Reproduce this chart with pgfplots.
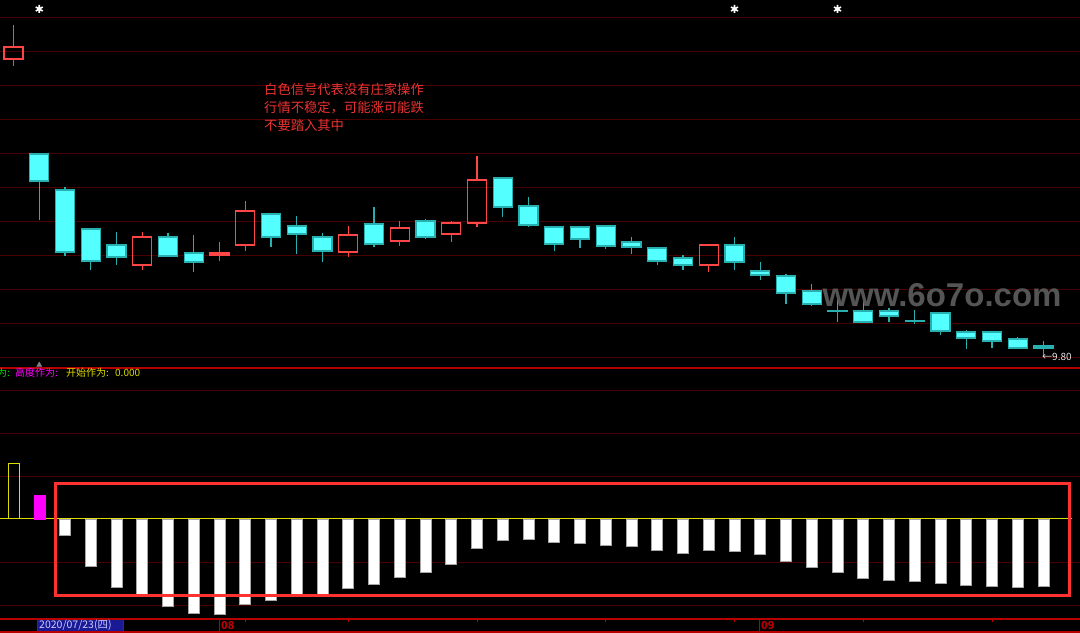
\documentclass[border=0pt]{standalone}
\usepackage{pgfplots}
\pgfplotsset{compat=1.18}
\usepgfplotslibrary{statistics}
\usepackage{fontspec}
\setmainfont{Noto Sans CJK SC}
\newfontfamily\wmfont{Liberation Sans}
\definecolor{cybody}{RGB}{84,255,255}
\definecolor{cyedge}{RGB}{40,175,175}
\definecolor{redc}{RGB}{255,70,70}
\definecolor{gridred}{RGB}{75,0,0}
\definecolor{sepred}{RGB}{185,0,0}
\definecolor{txtred}{RGB}{235,50,50}
\definecolor{boxred}{RGB}{255,50,50}
\definecolor{yel}{RGB}{220,220,0}
\definecolor{mag}{RGB}{255,0,255}
\definecolor{grn}{RGB}{0,220,0}
\definecolor{datebg}{RGB}{26,26,150}
\definecolor{wmgray}{RGB}{85,85,85}
\newcommand{\dn}[5]{\addplot[draw=cyedge, fill=cybody, line width=1.2bp, boxplot prepared={draw direction=y, draw position=#1, lower whisker=#2, lower quartile=#3, median=#3, upper quartile=#4, upper whisker=#5, box extend=19, whisker extend=0}] coordinates {};}
\newcommand{\up}[5]{\addplot[draw=redc, fill=none, line width=1.2bp, boxplot prepared={draw direction=y, draw position=#1, lower whisker=#2, lower quartile=#3, median=#3, upper quartile=#4, upper whisker=#5, box extend=19, whisker extend=0}] coordinates {};}
\begin{document}
\begin{tikzpicture}
\useasboundingbox (0,0) rectangle (1080bp,633bp);
\clip (0,0) rectangle (1080bp,633bp);
\fill[black] (0,0) rectangle (1080bp,633bp);
% ---------------- top panel (price, pixel rows, reversed) ----------------
\begin{axis}[at={(0,265bp)}, anchor=south west, scale only axis,
  width=1080bp, height=368bp, xmin=0, xmax=1080, ymin=0, ymax=368,
  y dir=reverse, clip=false, axis line style={draw=none},
  xtick=\empty, ytick={17,51,85,119,153,187,221,255,289,323,357}, yticklabels={},
  major tick length=0pt, ymajorgrids, grid style={gridred, line width=0.8bp}]
\up{13.5}{25}{47}{59}{66}
\dn{39.25}{154}{154}{181}{220}
\dn{65}{187}{190}{252}{256}
\dn{90.75}{229}{229}{261}{270}
\dn{116.5}{232}{245}{257}{265}
\up{142.25}{232}{237}{265}{270}
\dn{168}{233}{237}{256}{256}
\dn{193.75}{235}{253}{262}{272}
\up{219.5}{242}{253}{255}{261}
\up{245.25}{201}{211}{245}{251}
\dn{271}{214}{214}{237}{247}
\dn{296.75}{216}{226}{234}{254}
\dn{322.5}{233}{237}{251}{262}
\up{348.25}{226}{235}{252}{257}
\dn{374}{207}{224}{244}{247}
\up{399.75}{221}{228}{241}{246}
\dn{425.5}{219}{221}{237}{239}
\up{451.25}{221}{223}{234}{242}
\up{477}{156}{180}{223}{227}
\dn{502.75}{178}{178}{207}{217}
\dn{528.5}{197}{206}{225}{227}
\dn{554.25}{226}{227}{244}{251}
\dn{580}{227}{227}{239}{248}
\dn{605.75}{226}{226}{246}{249}
\dn{631.5}{237}{242}{247}{254}
\dn{657.25}{247}{248}{261}{265}
\dn{683}{255}{258}{265}{270}
\up{708.75}{245}{245}{265}{272}
\dn{734.5}{237}{245}{262}{270}
\dn{760.25}{262}{271}{275}{280}
\dn{786}{274}{276}{293}{304}
\dn{811.75}{284}{291}{304}{306}
\dn{837.5}{298}{310.5}{311.5}{322}
\dn{863.25}{297}{311}{322}{322}
\dn{889}{308}{311}{316}{322}
\dn{914.75}{310}{320.5}{321.5}{324}
\dn{940.5}{313}{313}{331}{335}
\dn{966.25}{330}{332}{338}{349}
\dn{992}{332}{332}{341}{348}
\dn{1017.75}{337}{339}{348}{349}
\dn{1043.5}{341}{346}{348}{357}
% white signals
\addplot[only marks, mark=asterisk, mark size=4bp, white, line width=1.6bp] coordinates {(39.25,9) (734.5,9) (837.5,9)};
\addplot[only marks, mark=*, mark size=1.6bp, white] coordinates {(39.25,9) (734.5,9) (837.5,9)};
\addplot[only marks, mark=triangle*, mark size=3bp, gray] coordinates {(39.25,365)};
\node[anchor=north west, align=left, text=txtred, font=\fontsize{13.3bp}{18bp}\selectfont, inner sep=0pt] at (axis cs:264,83) {白色信号代表没有庄家操作\\行情不稳定，可能涨可能跌\\不要踏入其中};
\node[anchor=center, text=wmgray, font=\wmfont\bfseries\fontsize{33bp}{36bp}\selectfont, inner sep=0pt] at (axis cs:942,295) {www.6o7o.com};
\node[anchor=west, text=white!80!gray, font=\fontsize{10bp}{12bp}\selectfont, inner sep=0pt] at (axis cs:1042,357) {←9.80};
\end{axis}
% ---------------- lower panel (indicator) ----------------
\begin{axis}[at={(0,0)}, anchor=south west, scale only axis,
  width=1080bp, height=265bp, xmin=0, xmax=1080, ymin=-114, ymax=151,
  clip=false, axis line style={draw=none},
  xtick=\empty, ytick={-86,-43,43,86,129}, yticklabels={},
  major tick length=0pt, ymajorgrids, grid style={gridred, line width=0.8bp}]
\draw[sepred, line width=1.3bp] (axis cs:0,151) -- (axis cs:1080,151);
\addplot[yel, line width=1bp] coordinates {(0,0) (1072,0)};
\addplot[ybar, bar width=11, bar shift=0pt, draw=yel, fill=none, line width=1bp] coordinates {(13.5,55)};
\addplot[ybar, bar width=11, bar shift=0pt, draw=mag, fill=mag] coordinates {(39.25,24)};
\addplot[ybar, bar width=11, bar shift=0pt, draw=gray!70, fill=white, line width=0.8bp] coordinates {
(65,-16) (90.75,-47) (116.5,-68) (142.25,-77) (168,-87) (193.75,-94) (219.5,-95)
(245.25,-85) (271,-81) (296.75,-77) (322.5,-75) (348.25,-69) (374,-65) (399.75,-58)
(425.5,-53) (451.25,-45) (477,-29) (502.75,-21) (528.5,-20) (554.25,-23) (580,-24)
(605.75,-26) (631.5,-27) (657.25,-31) (683,-34) (708.75,-31) (734.5,-32) (760.25,-35)
(786,-42) (811.75,-48) (837.5,-53) (863.25,-59) (889,-61) (914.75,-62) (940.5,-64)
(966.25,-66) (992,-67) (1017.75,-68) (1043.5,-67)};
\draw[boxred, line width=3bp] (axis cs:55.5,35.5) rectangle (axis cs:1069.5,-76.5);
% legend line
\node[anchor=west, text=grn, font=\fontsize{10bp}{12bp}\selectfont, inner sep=0pt] at (axis cs:-3,146) {为:};
\node[anchor=west, text=mag, font=\fontsize{10bp}{12bp}\selectfont, inner sep=0pt] at (axis cs:15,146) {高度作为:};
\node[anchor=west, text=yel, font=\fontsize{10bp}{12bp}\selectfont, inner sep=0pt] at (axis cs:66,146) {开始作为:};
\node[anchor=west, text=yel, font=\fontsize{10bp}{12bp}\selectfont, inner sep=0pt] at (axis cs:115,146) {0.000};
% date bar
\fill[datebg] (axis cs:37,-100) rectangle (axis cs:123,-113);
\draw[sepred, line width=1.2bp] (axis cs:0,-100) -- (axis cs:1080,-100);
\draw[sepred, line width=1.2bp] (axis cs:0,-113) -- (axis cs:1080,-113);
\draw[sepred, line width=1bp] (axis cs:37,-100) -- (axis cs:37,-113);
\draw[sepred, line width=1bp] (axis cs:123,-100) -- (axis cs:123,-113);
\draw[sepred, line width=1bp] (axis cs:219.5,-100) -- (axis cs:219.5,-113);
\draw[sepred, line width=1bp] (axis cs:759,-100) -- (axis cs:759,-113);
\pgfplotsinvokeforeach{245.25,348.25,477,605.75,734.5,863.25,992}{
  \draw[sepred, line width=1bp] (axis cs:#1,-100) -- (axis cs:#1,-103);
}
\node[anchor=west, text=white!80!blue, font=\fontsize{10.5bp}{12bp}\selectfont, inner sep=0pt] at (axis cs:39,-106.5) {2020/07/23(四)};
\node[anchor=west, text=sepred, font=\bfseries\fontsize{11bp}{12bp}\selectfont, inner sep=0pt] at (axis cs:221,-106.5) {08};
\node[anchor=west, text=sepred, font=\bfseries\fontsize{11bp}{12bp}\selectfont, inner sep=0pt] at (axis cs:761,-106.5) {09};
\end{axis}
\end{tikzpicture}
\end{document}
